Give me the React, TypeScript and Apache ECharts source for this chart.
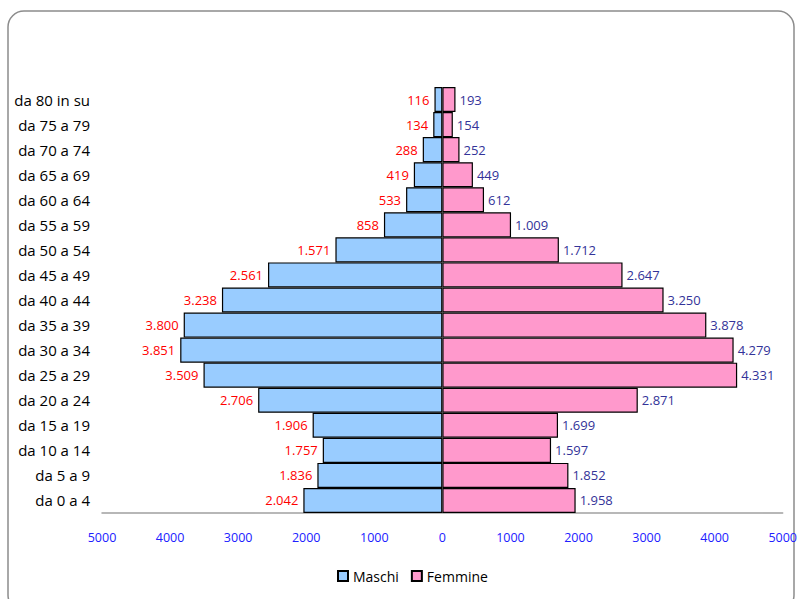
import React, { useEffect, useRef } from "react";
import * as echarts from "echarts";

const categories = [
  "da 0 a 4", "da 5 a 9", "da 10 a 14", "da 15 a 19", "da 20 a 24", "da 25 a 29",
  "da 30 a 34", "da 35 a 39", "da 40 a 44", "da 45 a 49", "da 50 a 54", "da 55 a 59",
  "da 60 a 64", "da 65 a 69", "da 70 a 74", "da 75 a 79", "da 80 in su",
];
const maschi = [2042, 1836, 1757, 1906, 2706, 3509, 3851, 3800, 3238, 2561, 1571, 858, 533, 419, 288, 134, 116];
const femmine = [1958, 1852, 1597, 1699, 2871, 4331, 4279, 3878, 3250, 2647, 1712, 1009, 612, 449, 252, 154, 193];

const fmt = (v: number) => String(Math.abs(v)).replace(/\B(?=(\d{3})+(?!\d))/g, ".");
const FONT = "'Open Sans', 'Noto Sans', sans-serif";

export default function App() {
  const ref = useRef<HTMLDivElement>(null);
  useEffect(() => {
    if (!ref.current) return;
    const chart = echarts.init(ref.current, null, { renderer: "svg" });
    chart.setOption({
      animation: false,
      backgroundColor: "#ffffff",
      graphic: [
        {
          type: "rect",
          shape: { x: 8, y: 11, width: 786, height: 600, r: 16 },
          style: { fill: "none", stroke: "#8c8c8c", lineWidth: 1.5 },
          silent: true,
        },
      ],
      legend: {
        bottom: 11,
        left: 332,
        itemWidth: 10,
        itemHeight: 10,
        itemGap: 12,
        icon: "rect",
        textStyle: { fontFamily: FONT, fontSize: 14, color: "#000" },
        data: ["Maschi", "Femmine"],
      },
      grid: { left: 102, right: 14, top: 87, bottom: 86, containLabel: false },
      xAxis: {
        type: "value",
        min: -5000,
        max: 5000,
        interval: 1000,
        axisLine: { show: true, lineStyle: { color: "#a0a0a0", width: 1.5 } },
        axisTick: { show: false },
        splitLine: { show: false },
        axisLabel: {
          formatter: (v: number) => String(Math.abs(v)),
          color: "#2020ff",
          fontFamily: FONT,
          fontSize: 12.5,
          margin: 18,
        },
      },
      yAxis: {
        type: "category",
        data: categories,
        axisLine: { show: false },
        axisTick: { show: false },
        axisLabel: { color: "#000", fontFamily: FONT, fontSize: 15, margin: 12 },
      },
      series: [
        {
          name: "Maschi",
          type: "bar",
          data: maschi.map((v) => -v),
          barWidth: "100%",
          barGap: "-100%",
          itemStyle: { color: "#99ccff", borderColor: "#000", borderWidth: 1.2 },
          label: {
            show: true,
            position: "left",
            distance: 5,
            color: "#ff0000",
            fontFamily: FONT,
            fontSize: 13,
            formatter: (p: any) => fmt(p.value),
          },
        },
        {
          name: "Femmine",
          type: "bar",
          data: femmine,
          barWidth: "100%",
          barGap: "-100%",
          itemStyle: { color: "#ff99cc", borderColor: "#000", borderWidth: 1.2 },
          label: {
            show: true,
            position: "right",
            distance: 4,
            color: "#333399",
            fontFamily: FONT,
            fontSize: 13,
            formatter: (p: any) => fmt(p.value),
          },
        },
      ],
    });
    return () => chart.dispose();
  }, []);
  return (
    <div
      ref={ref}
      style={{ position: "fixed", left: 0, top: 0, width: 800, height: 599 }}
    />
  );
}
